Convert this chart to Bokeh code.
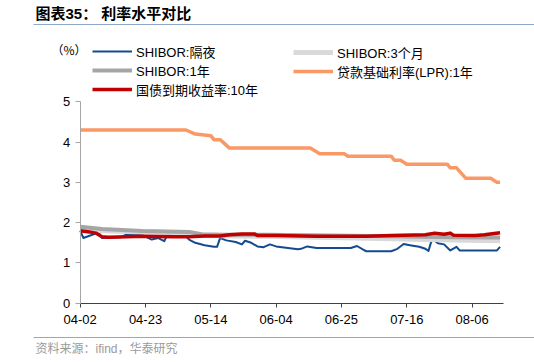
import pandas as pd
from bokeh.plotting import figure
from bokeh.models import (Range1d, FixedTicker, DatetimeTickFormatter, Label,
                          Legend, LegendItem, BoxAnnotation)
from bokeh.embed import file_html
from bokeh.resources import INLINE

# ---------------- data ----------------
tick_dates = ["2025-04-02", "2025-04-23", "2025-05-14", "2025-06-04",
              "2025-06-25", "2025-07-16", "2025-08-06"]
y_ticks = [0, 1, 2, 3, 4, 5]

# SHIBOR overnight
on_dates = ["2025-04-02", "2025-04-03", "2025-04-07", "2025-04-08", "2025-04-09",
            "2025-04-15", "2025-04-17", "2025-04-22", "2025-04-25", "2025-04-27",
            "2025-04-29", "2025-04-30", "2025-05-03", "2025-05-06", "2025-05-07",
            "2025-05-09", "2025-05-12", "2025-05-15", "2025-05-16", "2025-05-17",
            "2025-05-19", "2025-05-22", "2025-05-24", "2025-05-25", "2025-05-27",
            "2025-05-29", "2025-05-31", "2025-06-02", "2025-06-04", "2025-06-11",
            "2025-06-12", "2025-06-14", "2025-06-17", "2025-06-28", "2025-06-30",
            "2025-07-02", "2025-07-03", "2025-07-11", "2025-07-13", "2025-07-15",
            "2025-07-17", "2025-07-20", "2025-07-22", "2025-07-23", "2025-07-24",
            "2025-07-25", "2025-07-26", "2025-07-28", "2025-07-30", "2025-08-01",
            "2025-08-02", "2025-08-14", "2025-08-15"]
on_vals = [1.80, 1.62, 1.73, 1.74, 1.62,
           1.64, 1.71, 1.69, 1.58, 1.62,
           1.54, 1.69, 1.67, 1.66, 1.58,
           1.50, 1.44, 1.40, 1.40, 1.62,
           1.56, 1.52, 1.46, 1.55, 1.50,
           1.41, 1.39, 1.46, 1.41, 1.34,
           1.35, 1.41, 1.37, 1.37, 1.42,
           1.33, 1.29, 1.29, 1.35, 1.47,
           1.44, 1.40, 1.35, 1.30, 1.56,
           1.55, 1.49, 1.46, 1.31, 1.40,
           1.31, 1.31, 1.40]

# SHIBOR 3 months
m3_dates = ["2025-04-02", "2025-04-09", "2025-04-22", "2025-05-07", "2025-05-12",
            "2025-06-01", "2025-06-21", "2025-07-11", "2025-07-31", "2025-08-15"]
m3_vals = [1.86, 1.80, 1.77, 1.75, 1.68,
           1.66, 1.63, 1.60, 1.57, 1.55]

# SHIBOR 1 year
y1_dates = ["2025-04-02", "2025-04-09", "2025-04-22", "2025-05-07", "2025-05-11",
            "2025-05-18", "2025-06-01", "2025-06-21", "2025-07-11", "2025-07-31",
            "2025-08-15"]
y1_vals = [1.90, 1.84, 1.79, 1.77, 1.71,
           1.70, 1.70, 1.68, 1.66, 1.64,
           1.63]

# Loan prime rate (LPR) 1 year
lpr_dates = ["2025-04-02", "2025-05-06", "2025-05-09", "2025-05-14", "2025-05-15",
             "2025-05-17", "2025-05-20", "2025-06-15", "2025-06-18", "2025-06-26",
             "2025-06-27", "2025-07-11", "2025-07-12", "2025-07-14", "2025-07-16",
             "2025-07-29", "2025-07-30", "2025-08-01", "2025-08-04", "2025-08-12",
             "2025-08-14", "2025-08-15"]
lpr_vals = [4.30, 4.30, 4.20, 4.16, 4.06,
            4.06, 3.85, 3.85, 3.71, 3.71,
            3.65, 3.65, 3.55, 3.55, 3.45,
            3.45, 3.36, 3.36, 3.10, 3.10,
            3.00, 3.00]

# Government bond yield 10 years
gb_dates = ["2025-04-02", "2025-04-05", "2025-04-07", "2025-04-09", "2025-04-11",
            "2025-04-17", "2025-04-22", "2025-05-02", "2025-05-07", "2025-05-12",
            "2025-05-17", "2025-05-20", "2025-05-24", "2025-05-28", "2025-05-29",
            "2025-06-04", "2025-06-17", "2025-07-03", "2025-07-11", "2025-07-22",
            "2025-07-25", "2025-07-28", "2025-07-30", "2025-07-31", "2025-08-07",
            "2025-08-10", "2025-08-15"]
gb_vals = [1.80, 1.77, 1.74, 1.65, 1.64,
           1.65, 1.66, 1.65, 1.65, 1.67,
           1.67, 1.70, 1.72, 1.72, 1.68,
           1.68, 1.66, 1.66, 1.68, 1.70,
           1.74, 1.71, 1.74, 1.69, 1.68,
           1.70, 1.75]

labels = ["SHIBOR:隔夜", "SHIBOR:3个月", "SHIBOR:1年",
          "贷款基础利率(LPR):1年", "国债到期收益率:10年"]
colors = ["#134b8e", "#d9d9d9", "#a5a5a5", "#fa9966", "#c00000"]
widths = [2, 5, 4, 3.5, 3.5]

FONT = "Liberation Sans, Noto Sans CJK SC"
CJK = "Noto Sans CJK SC"

# ---------------- layout geometry (pixels) ----------------
W, H = 534, 362
AX_LEFT, AX_BOTTOM, AX_TOP = 79.7, 302.7, 101.3   # axis origin / top of y axis
PX_PER_DAY = 3.11
X0 = pd.Timestamp(tick_dates[0])
X_END = pd.Timestamp("2025-08-16")
PX_PER_UNIT = (AX_BOTTOM - AX_TOP) / 5.0

x_start = X0 - pd.Timedelta(days=AX_LEFT / PX_PER_DAY)
x_end = X0 + pd.Timedelta(days=(W - AX_LEFT) / PX_PER_DAY)
y_top = AX_BOTTOM / PX_PER_UNIT
y_bot = -(H - AX_BOTTOM) / PX_PER_UNIT

p = figure(width=W, height=H, output_backend="svg", toolbar_location=None,
           title_location=None, x_axis_type="datetime",
           x_range=Range1d(x_start, x_end), y_range=Range1d(y_bot, y_top),
           min_border=0, min_border_left=0, min_border_right=0,
           min_border_top=0, min_border_bottom=0)
p.outline_line_color = None
p.xgrid.visible = False
p.ygrid.visible = False
p.background_fill_color = "white"
p.border_fill_color = "white"

series = [(on_dates, on_vals), (m3_dates, m3_vals), (y1_dates, y1_vals),
          (lpr_dates, lpr_vals), (gb_dates, gb_vals)]
rends = []
for (d, v), c, w in zip(series, colors, widths):
    rends.append(p.line(pd.to_datetime(d), v, line_color=c, line_width=w,
                        line_join="round"))

# axes (placed at data origin, line limited by bounds)
x0_ms = X0.value / 1e6
p.xaxis.fixed_location = 0
p.xaxis.bounds = (x0_ms, X_END.value / 1e6)
p.yaxis.fixed_location = x0_ms
p.yaxis.bounds = (0, 5)
p.xaxis.ticker = FixedTicker(ticks=[pd.Timestamp(d).value / 1e6 for d in tick_dates])
p.xaxis.formatter = DatetimeTickFormatter(days="%m-%d", months="%m-%d", years="%m-%d",
                                          hours="%m-%d", hourmin="%m-%d")
p.yaxis.ticker = FixedTicker(ticks=y_ticks)
for ax in (p.xaxis[0], p.yaxis[0]):
    ax.major_label_text_font = "Liberation Sans"
    ax.major_label_text_font_size = "13px"
    ax.major_label_text_color = "#000000"
    ax.minor_tick_line_color = None
    ax.major_tick_in = 0
p.xaxis.axis_line_color = "#404040"
p.xaxis.major_tick_line_color = "#404040"
p.xaxis.major_tick_out = 4
p.xaxis.major_label_standoff = 8
p.yaxis.axis_line_color = "#a6a6a6"
p.yaxis.major_tick_line_color = "#a6a6a6"
p.yaxis.major_tick_out = 5
p.yaxis.major_label_standoff = 5


# legends (two columns), screen units: x from left, y up from bottom
def make_legend(idx, left_px, top_px):
    n = len(idx)
    leg = Legend(items=[LegendItem(label=labels[i], renderers=[rends[i]]) for i in idx],
                 location=(left_px, H - top_px - 18 * n),
                 orientation="vertical", padding=0, margin=0, spacing=0,
                 glyph_width=40, glyph_height=18, label_height=18,
                 label_standoff=4, border_line_color=None,
                 background_fill_alpha=0,
                 label_text_font=FONT, label_text_font_size="13px",
                 label_text_color="#000000")
    p.add_layout(leg)


make_legend([0, 2, 4], 92, 44.5)
make_legend([1, 3], 293, 44.5)

# texts
p.add_layout(Label(x=35, y=H - 13, x_units="screen", y_units="screen",
                   text="图表35：  利率水平对比", text_font=FONT, text_font_size="15px",
                   text_font_style="bold", text_baseline="middle", text_color="#000000"))
p.add_layout(Label(x=51, y=H - 49, x_units="screen", y_units="screen",
                   text="（%）", text_font=CJK, text_font_size="12px",
                   text_baseline="middle", text_color="#000000"))
p.add_layout(Label(x=35, y=H - 348, x_units="screen", y_units="screen",
                   text="资料来源：ifind，华泰研究", text_font=FONT,
                   text_font_size="12px", text_baseline="middle", text_color="#9a9a9a"))

# horizontal rules
for yy in (24, 337):
    p.add_layout(BoxAnnotation(left=33, right=W,
                               top=H - yy + 0.5, bottom=H - yy - 0.5,
                               left_units="screen", right_units="screen",
                               top_units="screen", bottom_units="screen",
                               fill_color="#8fa9c9", fill_alpha=1,
                               line_color=None, propagate_hover=False))

open("out.html", "w").write(file_html(p, INLINE))
